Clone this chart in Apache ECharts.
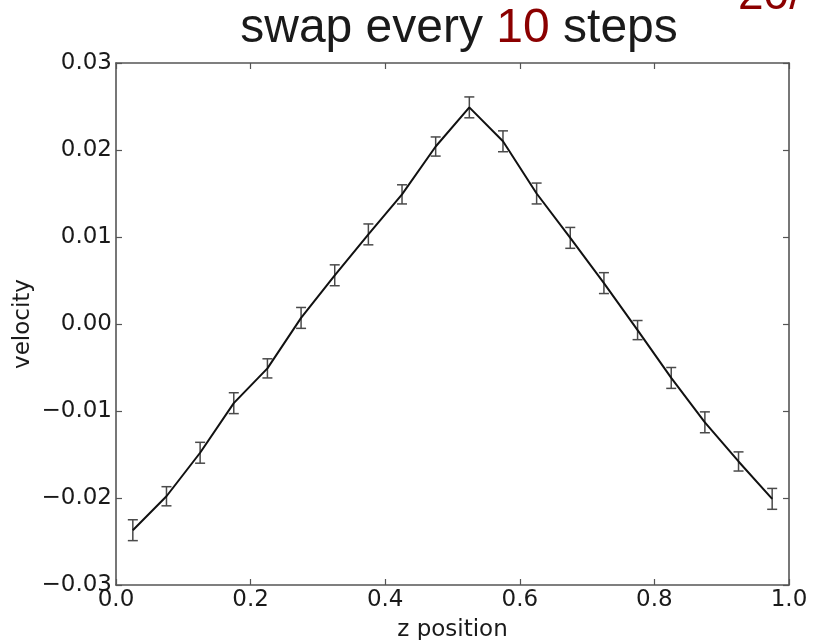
<!DOCTYPE html>
<html>
<head>
<meta charset="utf-8">
<script src="https://cdn.jsdelivr.net/npm/echarts@6/dist/echarts.min.js"></script>
<style>
  html, body { margin: 0; padding: 0; background: #fff; }
  #chart { width: 814px; height: 640px; }
</style>
</head>
<body>
<div id="chart"></div>
<script>
// Bin centres along z and the mean velocity measured in each bin
const zPos = [0.025, 0.075, 0.125, 0.175, 0.225, 0.275, 0.325, 0.375, 0.425, 0.475,
              0.525, 0.575, 0.625, 0.675, 0.725, 0.775, 0.825, 0.875, 0.925, 0.975];
const velocity = [-0.0237, -0.0198, -0.0148, -0.0091, -0.0051, 0.0007, 0.0056, 0.0103, 0.0149, 0.0204,
                  0.0249, 0.0210, 0.0150, 0.0099, 0.0047, -0.0007, -0.0062, -0.0113, -0.0158, -0.0201];
// Standard error of each bin
const velocityErr = [0.0012, 0.0011, 0.0012, 0.0012, 0.0011, 0.0012, 0.0012, 0.0012, 0.0011, 0.0011,
                     0.0012, 0.0012, 0.0012, 0.0012, 0.0012, 0.0011, 0.0012, 0.0012, 0.0011, 0.0012];

const xTicks = { min: 0, max: 1, interval: 0.2 };
const yTicks = { min: -0.03, max: 0.03, interval: 0.01 };

const tickFont = 'DejaVu Sans';
const frameColor = '#555';

const lineData = zPos.map((z, i) => [z, velocity[i]]);
const errData = zPos.map((z, i) => [z, velocity[i], velocityErr[i]]);

function fmtY(v) {
  if (Math.abs(v) < 1e-9) return '0.00';
  return v.toFixed(2).replace('-', '\u2212');
}
function fmtX(v) {
  return v.toFixed(1);
}

const chart = echarts.init(document.getElementById('chart'), null, { renderer: 'canvas' });

const frameAxisX = (pos, showLabel) => ({
  type: 'value',
  position: pos,
  min: xTicks.min, max: xTicks.max, interval: xTicks.interval,
  axisLine: { show: true, onZero: false, lineStyle: { color: frameColor, width: 1.6 } },
  axisTick: { show: true, inside: true, length: 6, lineStyle: { color: frameColor, width: 1.2 } },
  axisLabel: { show: showLabel, margin: 4, formatter: fmtX, fontFamily: tickFont, fontSize: 23, color: '#1a1a1a' },
  splitLine: { show: false }
});
const frameAxisY = (pos, showLabel) => ({
  type: 'value',
  position: pos,
  min: yTicks.min, max: yTicks.max, interval: yTicks.interval,
  axisLine: { show: true, onZero: false, lineStyle: { color: frameColor, width: 1.6 } },
  axisTick: { show: true, inside: true, length: 6, lineStyle: { color: frameColor, width: 1.2 } },
  axisLabel: { show: showLabel, margin: 4, formatter: fmtY, fontFamily: tickFont, fontSize: 23, color: '#1a1a1a' },
  splitLine: { show: false }
});

const xBottom = Object.assign(frameAxisX('bottom', true), {
  name: 'z position', nameLocation: 'middle', nameGap: 34, nameMoveOverlap: false,
  nameTextStyle: { fontFamily: tickFont, fontSize: 23, color: '#1a1a1a' }
});
const yLeft = Object.assign(frameAxisY('left', true), {
  name: 'velocity', nameLocation: 'middle', nameGap: 81, nameRotate: 90, nameMoveOverlap: false,
  nameTextStyle: { fontFamily: tickFont, fontSize: 23, color: '#1a1a1a' }
});

const option = {
  backgroundColor: '#fff',
  animation: false,
  grid: { left: 116, right: 25, top: 63, bottom: 55, containLabel: false, outerBoundsMode: 'none' },
  xAxis: [xBottom, frameAxisX('top', false)],
  yAxis: [yLeft, frameAxisY('right', false)],
  graphic: [
    {
      type: 'text', x: 459, y: 29, z: 10,
      style: {
        text: '{a|swap every }{b|10}{a| steps}',
        align: 'center', verticalAlign: 'middle',
        rich: {
          a: { fontFamily: 'Liberation Sans', fontSize: 48, fill: '#1a1a1a' },
          b: { fontFamily: 'Liberation Sans', fontSize: 48, fill: '#8b0000' }
        }
      }
    },
    {
      type: 'text', x: 738, y: -4, z: 10,
      style: {
        text: '20/', align: 'left', verticalAlign: 'middle',
        fontFamily: 'Liberation Sans', fontSize: 46, fill: '#8b0000'
      }
    }
  ],
  series: [
    {
      type: 'custom',
      xAxisIndex: 0, yAxisIndex: 0,
      z: 2,
      data: errData,
      renderItem: function (params, api) {
        const x = api.value(0), v = api.value(1), e = api.value(2);
        const lo = api.coord([x, v - e]);
        const hi = api.coord([x, v + e]);
        const cap = 5;
        const style = { stroke: '#4a4a4a', lineWidth: 1.5, fill: null };
        return {
          type: 'group',
          children: [
            { type: 'line', shape: { x1: lo[0], y1: lo[1], x2: hi[0], y2: hi[1] }, style },
            { type: 'line', shape: { x1: lo[0] - cap, y1: lo[1], x2: lo[0] + cap, y2: lo[1] }, style },
            { type: 'line', shape: { x1: hi[0] - cap, y1: hi[1], x2: hi[0] + cap, y2: hi[1] }, style }
          ]
        };
      }
    },
    {
      type: 'line',
      xAxisIndex: 0, yAxisIndex: 0,
      z: 3,
      data: lineData,
      showSymbol: false,
      symbol: 'none',
      lineStyle: { color: '#111', width: 2 }
    }
  ]
};

chart.setOption(option);
</script>
</body>
</html>
